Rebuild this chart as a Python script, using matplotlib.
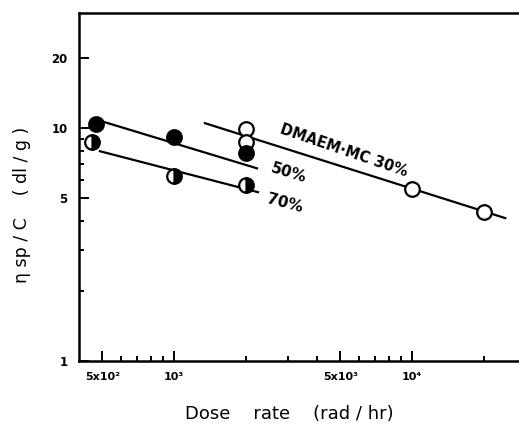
import numpy as np
import matplotlib
matplotlib.use('Agg')
import matplotlib.pyplot as plt
from matplotlib.ticker import FixedLocator, NullFormatter

# measured points, one list per composition
rate_30 = [2000, 2000, 10000, 20000]
eta_30 = [9.9, 8.7, 5.5, 4.35]
rate_50 = [470, 1000, 2000]
eta_50 = [10.4, 9.15, 7.8]
rate_70 = [455, 1000, 2000]
eta_70 = [8.7, 6.2, 5.7]

# ends of the straight fit lines (log-log)
fit_rate_30 = [1350, 24600]
fit_eta_30 = [10.5, 4.11]
fit_rate_50 = [513, 2233]
fit_eta_50 = [10.6, 6.72]
fit_rate_70 = [489, 2254]
fit_eta_70 = [7.96, 5.31]

x_ticks = [500, 1000, 5000, 10000]
x_ticklabels = ['5x10²', '10³', '5x10³', '10⁴']
y_ticks = [1, 5, 10, 20]
y_ticklabels = ['1', '5', '10', '20']

plt.rcParams['font.family'] = 'DejaVu Sans'

fig = plt.figure(figsize=(5.19, 4.33), dpi=100)
ax = fig.add_axes([0.152, 0.166, 0.848, 0.804])
ax.set_xscale('log')
ax.set_yscale('log')
ax.set_xlim(399, 28100)
ax.set_ylim(1, 31.2)

lw = 1.6
ax.plot(fit_rate_30, fit_eta_30, color='black', lw=lw, zorder=2)
ax.plot(fit_rate_50, fit_eta_50, color='black', lw=lw, zorder=2)
ax.plot(fit_rate_70, fit_eta_70, color='black', lw=lw, zorder=2)

mk = dict(linestyle='none', marker='o', ms=10.5, mew=1.6, mec='black', zorder=3)
ax.plot(rate_30, eta_30, mfc='white', **mk)
ax.plot(rate_50, eta_50, mfc='black', **mk)
ax.plot(rate_70, eta_70, mfc='black', fillstyle='right', markerfacecoloralt='white', **mk)

ax.text(5180, 8.05, 'DMAEM·MC 30%', rotation=-19, ha='center', va='center',
        fontsize=10.5, fontweight='bold')
ax.text(3040, 6.41, '50%', rotation=-17, ha='center', va='center',
        fontsize=11, fontweight='bold')
ax.text(2930, 4.77, '70%', rotation=-15, ha='center', va='center',
        fontsize=11, fontweight='bold')

ax.xaxis.set_major_locator(FixedLocator(x_ticks))
ax.set_xticklabels(x_ticklabels, fontsize=8, fontweight='bold')
ax.xaxis.set_minor_locator(FixedLocator([600, 700, 800, 900, 2000, 3000, 4000,
                                         6000, 7000, 8000, 9000, 20000]))
ax.xaxis.set_minor_formatter(NullFormatter())
ax.yaxis.set_major_locator(FixedLocator(y_ticks))
ax.set_yticklabels(y_ticklabels, fontsize=8.5, fontweight='bold')
ax.yaxis.set_minor_locator(FixedLocator([2, 3, 4, 6, 7, 8, 9]))
ax.yaxis.set_minor_formatter(NullFormatter())

ax.tick_params(which='both', direction='in', width=1.4, top=False, right=False)
ax.tick_params(which='major', length=7, pad=8)
ax.tick_params(which='minor', length=3.5)

for side in ['left', 'bottom', 'top']:
    ax.spines[side].set_linewidth(1.8)
ax.spines['right'].set_visible(False)

fig.text(0.558, 0.023, 'Dose    rate    (rad / hr)', ha='center', va='bottom',
         fontsize=13)
fig.text(0.043, 0.527, 'η sp / C    ( dl / g )', ha='center', va='center',
         rotation=90, fontsize=12.5)

fig.savefig('out.png', dpi=100)
